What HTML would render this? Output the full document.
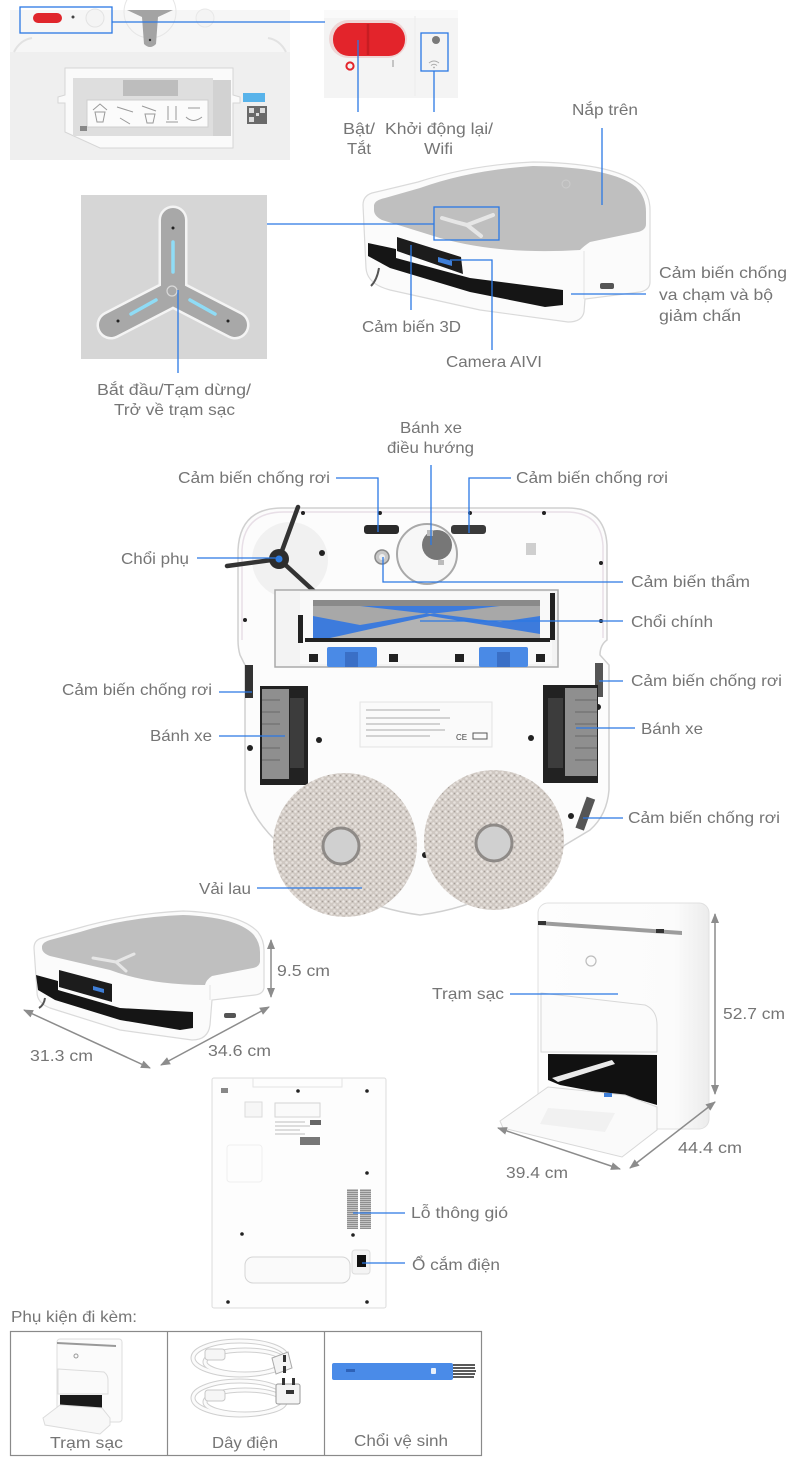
<!DOCTYPE html>
<html><head><meta charset="utf-8">
<style>
html,body{margin:0;padding:0;background:#fff;}
svg{display:block;}
text{font-family:"Liberation Sans","DejaVu Sans",sans-serif;font-size:16px;fill:#757575;}
</style></head>
<body>
<svg width="800" height="1466" viewBox="0 0 800 1466" xmlns="http://www.w3.org/2000/svg">
<defs>
<pattern id="mop" width="6" height="6" patternUnits="userSpaceOnUse">
<rect width="6" height="6" fill="#cfc8c2"/>
<circle cx="1.5" cy="1.5" r="1.3" fill="#ece7e3"/>
<circle cx="4.5" cy="4.5" r="1.3" fill="#e6e1dc"/>
<circle cx="4.5" cy="1.5" r="0.8" fill="#a79f99"/>
</pattern>
<pattern id="vent" width="4" height="2" patternUnits="userSpaceOnUse">
<rect width="4" height="2" fill="#c4c4c4"/>
<rect width="4" height="1" fill="#8f8f8f"/>
</pattern>
<linearGradient id="stg" x1="0" x2="1" y1="0" y2="0">
<stop offset="0" stop-color="#fdfdfd"/><stop offset="0.8" stop-color="#fbfbfb"/><stop offset="1" stop-color="#ececec"/>
</linearGradient>
<marker id="ah" viewBox="0 0 10 10" refX="9" refY="5" markerWidth="10" markerHeight="10" markerUnits="userSpaceOnUse" orient="auto-start-reverse"><path d="M0,1 L10,5 L0,9 Z" fill="#8c8c8c"/></marker>
</defs>

<!-- ===== Top-left photo ===== -->
<rect x="10" y="10" width="280" height="150" fill="#efefef"/>
<rect x="10" y="10" width="280" height="42" fill="#f6f6f6"/>
<path d="M14,52 Q20,40 32,38 M286,52 Q280,40 268,38" stroke="#e2e2e2" stroke-width="2" fill="none"/>
<circle cx="95" cy="18" r="9" fill="#f4f4f4" stroke="#e3e3e3"/>
<circle cx="205" cy="18" r="9" fill="#f4f4f4" stroke="#e8e8e8"/>
<circle cx="150" cy="12" r="26" fill="none" stroke="#e6e6e6"/>
<path d="M127,10 L173,10 L158,17 L156,44 Q150,50 144,44 L142,17 Z" fill="#a3a3a3"/>
<circle cx="150" cy="40" r="1.2" fill="#333"/>
<rect x="33" y="13" width="29" height="10" rx="5" fill="#e0262c"/>
<circle cx="73" cy="17" r="1.5" fill="#444"/>
<rect x="20" y="7" width="92" height="26" fill="none" stroke="#2b78e4" stroke-width="1.3"/>
<!-- tray -->
<path d="M58,97 L65,95 L65,68 L233,68 L233,95 L240,97 L240,103 L233,103 L233,148 L100,148 L65,132 L65,103 L58,103 Z" fill="#fafafa" stroke="#d6d6d6"/>
<rect x="73" y="78" width="140" height="58" fill="#dedede"/>
<rect x="123" y="80" width="55" height="16" fill="#bdbdbd"/>
<rect x="213" y="80" width="18" height="56" fill="#d2d2d2"/>
<rect x="87" y="100" width="121" height="27" fill="#fbfbfb" stroke="#cfcfcf"/>
<g stroke="#9a9a9a" stroke-width="1" fill="none">
<path d="M93,110 L100,104 L107,110 M95,112 L105,112 L103,122 L97,122 Z"/>
<path d="M117,107 L133,112 M120,118 L130,124"/>
<path d="M142,106 L156,111 M145,114 L155,114 L153,123 L147,123 Z"/>
<path d="M168,106 L168,120 M176,106 L176,120 M166,122 L178,122"/>
<path d="M188,108 L200,108 M186,117 Q193,124 202,117"/>
</g>
<rect x="243" y="93" width="22" height="9" fill="#58b3ea"/>
<rect x="247" y="106" width="20" height="18" fill="#6a6a6a"/>
<rect x="249" y="108" width="5" height="5" fill="#ddd"/><rect x="260" y="108" width="5" height="5" fill="#ddd"/><rect x="249" y="117" width="5" height="5" fill="#ddd"/><rect x="256" y="113" width="3" height="3" fill="#ddd"/>
<rect x="80" y="126" width="7" height="5" fill="#888"/>

<!-- ===== Top-right inset ===== -->
<rect x="324" y="10" width="134" height="88" fill="#f4f4f4"/>
<rect x="324" y="10" width="134" height="8" fill="#fafafa"/>
<line x1="415" y1="16" x2="415" y2="96" stroke="#ebebeb"/>
<rect x="329" y="20" width="78" height="38" rx="19" fill="#eed6d6"/>
<rect x="333" y="23" width="72" height="33" rx="16" fill="#e3242b"/>
<line x1="368" y1="24" x2="368" y2="55" stroke="#c71d23" stroke-width="2.5"/>
<circle cx="350" cy="66" r="3.6" fill="none" stroke="#e3242b" stroke-width="2"/>
<line x1="393" y1="60" x2="393" y2="67" stroke="#b5b5b5" stroke-width="1.5"/>
<circle cx="436" cy="40" r="4" fill="#7a7a7a"/>
<path d="M429,63 Q434,59 439,63 M431,65.5 Q434,63 437,65.5" stroke="#aaa" fill="none" stroke-width="1"/>
<circle cx="434" cy="67.5" r="0.9" fill="#aaa"/>
<rect x="421" y="33" width="27" height="38" fill="none" stroke="#2b78e4" stroke-width="1.3"/>

<!-- ===== Y button panel ===== -->
<rect x="81" y="195" width="186" height="164" fill="#d6d6d6"/>
<g fill="none" stroke-linecap="round" stroke-linejoin="round">
<path d="M173,220 L173,293 M173,293 L111,325 M173,293 L235,325" stroke="#f4f4f4" stroke-width="29"/>
<path d="M173,220 L173,293 M173,293 L111,325 M173,293 L235,325" stroke="#a8a8a8" stroke-width="24"/>
<path d="M173,242 L173,272 M131,314 L156,300 M190,300 L215,314" stroke="#8fdcf6" stroke-width="3.5"/>
</g>
<circle cx="173" cy="228" r="1.5" fill="#222"/>
<circle cx="118" cy="321" r="1.5" fill="#222"/>
<circle cx="228" cy="321" r="1.5" fill="#222"/>
<circle cx="172" cy="291" r="5" fill="none" stroke="#d8d8d8" stroke-width="1.2"/>

<!-- ===== Main robot (top view) ===== -->
<path d="M363,205 Q363,196 372,193 L418,182 Q470,165 533,162 Q615,163 640,185 Q650,195 650,210 L650,282 Q650,290 640,292 L585,299 L584,312 Q582,322 568,322 L480,310 L390,290 Q367,284 366,268 Z" fill="#fbfbfb" stroke="#dadada" stroke-width="1.2"/>
<path d="M374,205 Q375,200 385,198 L420,188 Q470,170 533,166 Q612,167 636,187 Q646,197 646,212 L646,224 Q646,230 638,232 L590,242 Q584,246 580,250 Q500,255 440,238 L382,220 Q374,216 374,210 Z" fill="#bfbfbf"/>
<line x1="584" y1="251" x2="584" y2="299" stroke="#e3e3e3"/>
<path d="M442,218 Q455,222 467,225 L481,236 M467,225 L493,215" stroke="#e6e6e6" stroke-width="4" fill="none" stroke-linecap="round"/>
<circle cx="566" cy="184" r="4" fill="none" stroke="#ccc"/>
<polygon points="368,243 396,249 396,258 470,278 563,290 563,305 545,307 470,292 390,268 368,256" fill="#151515"/>
<polygon points="397,237 461,257 463,274 397,251" fill="#1c1c1c"/>
<polygon points="438,257 452,261 452,266 438,262" fill="#3f7fd8"/>
<path d="M379,268 Q377,280 371,286" stroke="#555" stroke-width="2" fill="none"/>
<rect x="600" y="283" width="14" height="6" rx="2" fill="#555"/>
<rect x="434" y="207" width="65" height="33" fill="none" stroke="#2b78e4" stroke-width="1.3"/>

<!-- ===== Bottom-view robot ===== -->
<path d="M282,508 L568,508 Q605,508 607,545 L607,640 Q600,645 600,655 L609,665 L609,790 Q607,815 590,830 L565,845 Q500,905 420,915 Q340,905 275,840 Q250,815 245,790 L245,665 L240,655 Q238,648 238,640 L238,550 Q240,508 282,508 Z" fill="#fcfcfc" stroke="#d0d0d0" stroke-width="1.5"/>
<path d="M284,512 L566,512 Q601,512 603,546 L603,638" fill="none" stroke="#e8dfe7" stroke-width="1.5"/>
<path d="M284,512 Q244,512 242,550 L242,640" fill="none" stroke="#e8dfe7" stroke-width="1.5"/>
<circle cx="290" cy="560" r="38" fill="#f1f1f1"/>
<circle cx="427" cy="554" r="30" fill="#f7f7f7" stroke="#a9a9a9" stroke-width="2"/>
<circle cx="437" cy="545" r="15" fill="#777"/>
<rect x="427" y="530" width="6" height="6" fill="#bbb"/><rect x="438" y="560" width="6" height="5" fill="#bbb"/>
<circle cx="382" cy="557" r="7" fill="#c8c8c8" stroke="#8a8a8a" stroke-width="1.5"/>
<circle cx="382" cy="557" r="3" fill="#eee"/>
<rect x="364" y="525" width="35" height="9" rx="3" fill="#2a2a2a"/>
<rect x="451" y="525" width="35" height="9" rx="3" fill="#3a3a3a"/>
<rect x="526" y="543" width="10" height="12" fill="#cfcfcf"/>
<g fill="#222">
<circle cx="322" cy="553" r="3"/><circle cx="303" cy="513" r="2"/><circle cx="380" cy="513" r="2"/><circle cx="470" cy="513" r="2"/><circle cx="544" cy="513" r="2"/><circle cx="601" cy="563" r="2"/>
<circle cx="250" cy="748" r="3"/><circle cx="302" cy="779" r="3"/><circle cx="319" cy="740" r="3"/><circle cx="531" cy="738" r="3"/><circle cx="598" cy="707" r="3"/><circle cx="571" cy="816" r="3"/><circle cx="425" cy="855" r="3"/><circle cx="245" cy="620" r="2"/><circle cx="601" cy="621" r="2"/>
</g>
<g stroke="#333" stroke-width="4.5" stroke-linecap="round">
<line x1="279" y1="559" x2="298" y2="507"/>
<line x1="279" y1="559" x2="227" y2="566"/>
<line x1="279" y1="559" x2="316" y2="593"/>
</g>
<circle cx="279" cy="559" r="10" fill="#2d2d2d"/>
<circle cx="279" cy="559" r="3.5" fill="#2f7de1"/>
<!-- brush bay -->
<rect x="275" y="590" width="283" height="77" fill="#f3f3f3" stroke="#a9a9a9" stroke-width="1.5"/>
<rect x="300" y="592" width="252" height="72" fill="#f9f9f9"/>
<rect x="313" y="600" width="227" height="38" fill="#3d7bdc"/>
<rect x="313" y="600" width="227" height="6" fill="#8a8a8a"/>
<polygon points="313,606 360,606 430,614 500,606 540,606 540,616 500,622 430,613 360,625 313,616" fill="#a8a8a8"/>
<polygon points="330,638 430,616 540,634 540,638" fill="#b3b3b3"/>
<rect x="305" y="638" width="245" height="4" fill="#222"/>
<rect x="298" y="615" width="5" height="28" fill="#222"/>
<rect x="550" y="593" width="5" height="47" fill="#222"/>
<rect x="327" y="647" width="50" height="20" rx="2" fill="#4a8ae6"/>
<rect x="345" y="652" width="13" height="15" fill="#3a6fc6"/>
<rect x="479" y="647" width="49" height="20" rx="2" fill="#4a8ae6"/>
<rect x="497" y="652" width="13" height="15" fill="#3a6fc6"/>
<g fill="#222"><rect x="309" y="654" width="9" height="8"/><rect x="389" y="654" width="9" height="8"/><rect x="455" y="654" width="9" height="8"/><rect x="536" y="654" width="9" height="8"/></g>
<!-- cliff sensors & wheels -->
<rect x="245" y="665" width="8" height="33" fill="#333"/>
<rect x="595" y="663" width="8" height="34" fill="#555"/>
<rect x="260" y="686" width="48" height="99" fill="#222"/>
<rect x="262" y="689" width="27" height="90" fill="#8f8f8f"/>
<g stroke="#6a6a6a" stroke-width="1"><line x1="262" y1="700" x2="280" y2="700"/><line x1="262" y1="712" x2="280" y2="712"/><line x1="262" y1="724" x2="280" y2="724"/><line x1="262" y1="736" x2="280" y2="736"/><line x1="262" y1="748" x2="280" y2="748"/><line x1="262" y1="760" x2="280" y2="760"/></g>
<rect x="290" y="698" width="14" height="70" fill="#3c3c3c"/>
<rect x="543" y="685" width="55" height="98" fill="#222"/>
<rect x="565" y="688" width="32" height="88" fill="#8f8f8f"/>
<g stroke="#6a6a6a" stroke-width="1"><line x1="575" y1="700" x2="597" y2="700"/><line x1="575" y1="712" x2="597" y2="712"/><line x1="575" y1="724" x2="597" y2="724"/><line x1="575" y1="736" x2="597" y2="736"/><line x1="575" y1="748" x2="597" y2="748"/><line x1="575" y1="760" x2="597" y2="760"/></g>
<rect x="548" y="698" width="15" height="70" fill="#3c3c3c"/>
<rect x="581" y="797" width="9" height="33" fill="#555" transform="rotate(20 585 813)"/>
<!-- label -->
<rect x="360" y="702" width="132" height="45" fill="#fafafa" stroke="#e3e3e3"/>
<g stroke="#c4c4c4" stroke-width="1.5"><line x1="366" y1="710" x2="440" y2="710"/><line x1="366" y1="718" x2="450" y2="718"/><line x1="366" y1="724" x2="440" y2="724"/><line x1="366" y1="730" x2="445" y2="730"/><line x1="366" y1="736" x2="430" y2="736"/></g>
<rect x="473" y="733" width="14" height="6" fill="none" stroke="#555"/>
<text x="456" y="740" style="font-size:8px;fill:#444">CE</text>
<!-- pads -->
<circle cx="345" cy="845" r="72" fill="url(#mop)"/>
<circle cx="494" cy="840" r="70" fill="url(#mop)"/>
<circle cx="341" cy="846" r="18" fill="#d0d0d0" stroke="#8e8a87" stroke-width="3"/>
<circle cx="494" cy="843" r="18" fill="#d0d0d0" stroke="#8e8a87" stroke-width="3"/>

<!-- ===== Small robot with dimensions ===== -->
<path d="M34,948 Q34,940 42,938 L75,929 Q125,914 183,911 Q240,913 258,932 Q264,940 264,950 L264,988 Q263,994 255,995 L212,1000 L210,1025 Q208,1040 192,1040 L120,1030 L50,1008 Q37,1003 37,992 Z" fill="#fbfbfb" stroke="#dadada" stroke-width="1.2"/>
<path d="M42,946 Q43,942 50,940 L80,932 Q128,917 183,915 Q236,917 253,934 Q260,942 260,952 L260,962 Q259,967 253,968 L212,976 Q206,980 205,985 Q150,985 110,970 L50,956 Q42,953 42,948 Z" fill="#bfbfbf"/>
<line x1="210" y1="985" x2="210" y2="1000" stroke="#e3e3e3"/>
<polygon points="36,975 58,981 58,990 120,1008 193,1012 193,1028 180,1030 120,1020 55,1000 38,990" fill="#151515"/>
<polygon points="59,970 112,984 112,1002 59,987" fill="#1c1c1c"/>
<polygon points="93,986 104,989 104,993 93,990" fill="#3f7fd8"/>
<path d="M93,958 Q105,960 116,962 L126,971 M116,962 L134,954" stroke="#e6e6e6" stroke-width="3" fill="none" stroke-linecap="round"/>
<path d="M45,998 Q44,1005 39,1008" stroke="#555" stroke-width="2" fill="none"/>
<rect x="224" y="1013" width="12" height="5" rx="2" fill="#555"/>
<g stroke="#8c8c8c" stroke-width="1.5" fill="none">
<line x1="271" y1="940" x2="271" y2="997" marker-start="url(#ah)" marker-end="url(#ah)"/>
<line x1="24" y1="1010" x2="150" y2="1068" marker-start="url(#ah)" marker-end="url(#ah)"/>
<line x1="161" y1="1065" x2="269" y2="1007" marker-start="url(#ah)" marker-end="url(#ah)"/>
</g>

<!-- ===== Station ===== -->
<rect x="538" y="903" width="171" height="226" rx="10" fill="url(#stg)" stroke="#e0e0e0"/>
<polygon points="538,921 682,931 682,935 538,925" fill="#9c9c9c"/>
<rect x="538" y="921" width="8" height="4" fill="#333"/>
<rect x="656" y="929" width="8" height="4" fill="#333"/>
<circle cx="591" cy="961" r="5" fill="none" stroke="#bdbdbd" stroke-width="1.2"/>
<path d="M541,993 L645,1005 Q657,1010 657,1025 L657,1052 L541,1052 Z" fill="#fbfbfb" stroke="#d8d8d8"/>
<polygon points="548,1054 657,1055 657,1105 640,1100 560,1085 548,1080" fill="#111"/>
<polygon points="552,1078 612,1060 615,1064 558,1082" fill="#eaeaea"/>
<polygon points="500,1121 548,1087 625,1095 657,1107 657,1130 622,1157 503,1128" fill="#fafafa" stroke="#d8d8d8"/>
<polygon points="548,1108 615,1113 605,1132 540,1124" fill="#f1f1f1"/>
<rect x="604" y="1093" width="8" height="4" fill="#3f7fd8"/>
<g stroke="#8c8c8c" stroke-width="1.5" fill="none">
<line x1="715" y1="914" x2="715" y2="1094" marker-start="url(#ah)" marker-end="url(#ah)"/>
<line x1="498" y1="1128" x2="620" y2="1169" marker-start="url(#ah)" marker-end="url(#ah)"/>
<line x1="630" y1="1168" x2="715" y2="1102" marker-start="url(#ah)" marker-end="url(#ah)"/>
</g>

<!-- ===== Station back ===== -->
<rect x="212" y="1078" width="174" height="230" rx="2" fill="#fdfdfd" stroke="#dcdcdc"/>
<path d="M253,1078 L253,1087 L342,1087 L342,1078" fill="none" stroke="#e4e4e4"/>
<rect x="221" y="1088" width="7" height="5" fill="#888"/>
<rect x="245" y="1102" width="17" height="15" fill="#f6f6f6" stroke="#dcdcdc"/>
<rect x="275" y="1103" width="45" height="14" fill="#fafafa" stroke="#d4d4d4"/>
<g stroke="#bdbdbd" stroke-width="1"><line x1="275" y1="1122" x2="305" y2="1122"/><line x1="275" y1="1126" x2="310" y2="1126"/><line x1="275" y1="1130" x2="300" y2="1130"/><line x1="275" y1="1134" x2="305" y2="1134"/></g>
<rect x="310" y="1120" width="11" height="5" fill="#666"/>
<rect x="300" y="1137" width="20" height="8" fill="#777"/>
<rect x="227" y="1145" width="35" height="37" rx="3" fill="none" stroke="#efefef"/>
<rect x="347" y="1189" width="24" height="40" fill="url(#vent)"/>
<line x1="359" y1="1189" x2="359" y2="1229" stroke="#fff" stroke-width="2"/>
<rect x="245" y="1257" width="105" height="26" rx="8" fill="#fafafa" stroke="#d5d5d5"/>
<rect x="352" y="1250" width="18" height="24" rx="3" fill="#f4f4f4" stroke="#dddddd"/>
<rect x="357" y="1255" width="9" height="12" fill="#111"/>
<g fill="#222"><circle cx="298" cy="1091" r="1.8"/><circle cx="367" cy="1091" r="1.8"/><circle cx="367" cy="1173" r="1.8"/><circle cx="242" cy="1234" r="1.8"/><circle cx="353" cy="1235" r="1.8"/><circle cx="228" cy="1302" r="1.8"/><circle cx="367" cy="1302" r="1.8"/></g>

<!-- ===== Accessories table ===== -->
<rect x="10.5" y="1331.5" width="471" height="124" fill="none" stroke="#8a8a8a" stroke-width="1.2"/>
<line x1="167.5" y1="1331.5" x2="167.5" y2="1455.5" stroke="#8a8a8a" stroke-width="1.2"/>
<line x1="324.5" y1="1331.5" x2="324.5" y2="1455.5" stroke="#8a8a8a" stroke-width="1.2"/>
<!-- mini station -->
<rect x="57" y="1339" width="65" height="83" rx="3" fill="#fbfbfb" stroke="#dedede"/>
<polygon points="57,1342 116,1345 116,1347 57,1344" fill="#999"/>
<circle cx="76" cy="1356" r="2" fill="none" stroke="#999"/>
<path d="M58,1369 L104,1372 Q108,1375 108,1380 L108,1394 L58,1394 Z" fill="#fafafa" stroke="#dcdcdc"/>
<rect x="60" y="1395" width="42" height="17" fill="#1a1a1a"/>
<polygon points="43,1418 60,1405 102,1408 110,1418 110,1425 100,1434 45,1425" fill="#f8f8f8" stroke="#dcdcdc"/>
<!-- cables -->
<g fill="none" stroke="#cfcfcf" stroke-width="5">
<ellipse cx="240" cy="1358" rx="47" ry="17"/>
<ellipse cx="245" cy="1362" rx="40" ry="12"/>
<ellipse cx="240" cy="1398" rx="47" ry="17"/>
<ellipse cx="245" cy="1402" rx="40" ry="12"/>
</g>
<g fill="none" stroke="#fbfbfb" stroke-width="3">
<ellipse cx="240" cy="1358" rx="47" ry="17"/>
<ellipse cx="245" cy="1362" rx="40" ry="12"/>
<ellipse cx="240" cy="1398" rx="47" ry="17"/>
<ellipse cx="245" cy="1402" rx="40" ry="12"/>
</g>
<rect x="205" y="1349" width="20" height="11" rx="3" fill="#f6f6f6" stroke="#c8c8c8"/>
<rect x="205" y="1390" width="20" height="11" rx="3" fill="#f6f6f6" stroke="#c8c8c8"/>
<polygon points="272,1358 288,1352 292,1368 276,1374" fill="#f4f4f4" stroke="#aaa"/>
<rect x="283" y="1355" width="3" height="7" fill="#333"/><rect x="283" y="1366" width="3" height="7" fill="#333"/>
<rect x="276" y="1384" width="24" height="20" rx="2" fill="#f4f4f4" stroke="#999"/>
<rect x="282" y="1378" width="3" height="7" fill="#333"/><rect x="292" y="1378" width="3" height="7" fill="#333"/><rect x="286" y="1390" width="8" height="4" fill="#333"/>
<!-- cleaning brush -->
<rect x="332" y="1363" width="121" height="17" rx="2" fill="#4a8be8"/>
<rect x="346" y="1369" width="9" height="3" fill="#2e62b8"/>
<rect x="431" y="1368" width="5" height="6" rx="1" fill="#e8f0fb"/>
<g stroke="#222" stroke-width="1.4"><line x1="453" y1="1365" x2="475" y2="1365"/><line x1="453" y1="1368" x2="475" y2="1368"/><line x1="453" y1="1371" x2="476" y2="1371"/><line x1="453" y1="1374" x2="475" y2="1374"/><line x1="453" y1="1377" x2="474" y2="1377"/></g>

<!-- ===== Connector lines ===== -->
<g stroke="#2b78e4" stroke-width="1.3" fill="none">
<path d="M112,22 H325"/>
<path d="M358,40 V112"/>
<path d="M434,71 V112"/>
<path d="M602,128 V205"/>
<path d="M267,224 H434"/>
<path d="M178,290 V373"/>
<path d="M411,245 V310"/>
<path d="M450,260 H492 V350"/>
<path d="M571,294 H646"/>
<path d="M431,465 V545"/>
<path d="M336,478 H378 V532"/>
<path d="M511,478 H469 V533"/>
<path d="M197,558 H279"/>
<path d="M623,582 H383 V557"/>
<path d="M623,621 H420"/>
<path d="M219,692 H252"/>
<path d="M219,736 H285"/>
<path d="M599,681 H623"/>
<path d="M576,728 H635"/>
<path d="M583,818 H623"/>
<path d="M257,888 H362"/>
<path d="M510,994 H618"/>
<path d="M353,1213 H405"/>
<path d="M362,1263 H405"/>
</g>

<!-- ===== Labels ===== -->
<text x="343" y="134" textLength="32" lengthAdjust="spacingAndGlyphs">Bật/</text>
<text x="347" y="154" textLength="24" lengthAdjust="spacingAndGlyphs">Tắt</text>
<text x="385" y="134" textLength="108" lengthAdjust="spacingAndGlyphs">Khởi động lại/</text>
<text x="424" y="154" textLength="29" lengthAdjust="spacingAndGlyphs">Wifi</text>
<text x="572" y="115" textLength="66" lengthAdjust="spacingAndGlyphs">Nắp trên</text>
<text x="659" y="278" textLength="128" lengthAdjust="spacingAndGlyphs">Cảm biến chống</text>
<text x="659" y="300" textLength="114" lengthAdjust="spacingAndGlyphs">va chạm và bộ</text>
<text x="659" y="321" textLength="82" lengthAdjust="spacingAndGlyphs">giảm chấn</text>
<text x="362" y="332" textLength="99" lengthAdjust="spacingAndGlyphs">Cảm biến 3D</text>
<text x="446" y="367" textLength="96" lengthAdjust="spacingAndGlyphs">Camera AIVI</text>
<text x="97" y="395" textLength="154" lengthAdjust="spacingAndGlyphs">Bắt đầu/Tạm dừng/</text>
<text x="114" y="415" textLength="121" lengthAdjust="spacingAndGlyphs">Trở về trạm sạc</text>

<text x="400" y="433" textLength="62" lengthAdjust="spacingAndGlyphs">Bánh xe</text>
<text x="387" y="453" textLength="87" lengthAdjust="spacingAndGlyphs">điều hướng</text>
<text x="178" y="483" textLength="152" lengthAdjust="spacingAndGlyphs">Cảm biến chống rơi</text>
<text x="516" y="483" textLength="152" lengthAdjust="spacingAndGlyphs">Cảm biến chống rơi</text>
<text x="121" y="564" textLength="68" lengthAdjust="spacingAndGlyphs">Chổi phụ</text>
<text x="631" y="587" textLength="119" lengthAdjust="spacingAndGlyphs">Cảm biến thẩm</text>
<text x="631" y="627" textLength="82" lengthAdjust="spacingAndGlyphs">Chổi chính</text>
<text x="631" y="686" textLength="151" lengthAdjust="spacingAndGlyphs">Cảm biến chống rơi</text>
<text x="62" y="695" textLength="150" lengthAdjust="spacingAndGlyphs">Cảm biến chống rơi</text>
<text x="150" y="741" textLength="62" lengthAdjust="spacingAndGlyphs">Bánh xe</text>
<text x="641" y="734" textLength="62" lengthAdjust="spacingAndGlyphs">Bánh xe</text>
<text x="628" y="823" textLength="152" lengthAdjust="spacingAndGlyphs">Cảm biến chống rơi</text>
<text x="199" y="894" textLength="52" lengthAdjust="spacingAndGlyphs">Vải lau</text>

<text x="277" y="976" textLength="53" lengthAdjust="spacingAndGlyphs">9.5 cm</text>
<text x="30" y="1061" textLength="63" lengthAdjust="spacingAndGlyphs">31.3 cm</text>
<text x="208" y="1056" textLength="63" lengthAdjust="spacingAndGlyphs">34.6 cm</text>
<text x="432" y="999" textLength="72" lengthAdjust="spacingAndGlyphs">Trạm sạc</text>
<text x="723" y="1019" textLength="62" lengthAdjust="spacingAndGlyphs">52.7 cm</text>
<text x="506" y="1178" textLength="62" lengthAdjust="spacingAndGlyphs">39.4 cm</text>
<text x="678" y="1153" textLength="64" lengthAdjust="spacingAndGlyphs">44.4 cm</text>
<text x="411" y="1218" textLength="97" lengthAdjust="spacingAndGlyphs">Lỗ thông gió</text>
<text x="412" y="1270" textLength="88" lengthAdjust="spacingAndGlyphs">Ổ cắm điện</text>

<text x="11" y="1322" textLength="126" lengthAdjust="spacingAndGlyphs">Phụ kiện đi kèm:</text>
<text x="50" y="1448" textLength="73" lengthAdjust="spacingAndGlyphs">Trạm sạc</text>
<text x="212" y="1448" textLength="66" lengthAdjust="spacingAndGlyphs">Dây điện</text>
<text x="354" y="1446" textLength="94" lengthAdjust="spacingAndGlyphs">Chổi vệ sinh</text>
</svg>
</body></html>
